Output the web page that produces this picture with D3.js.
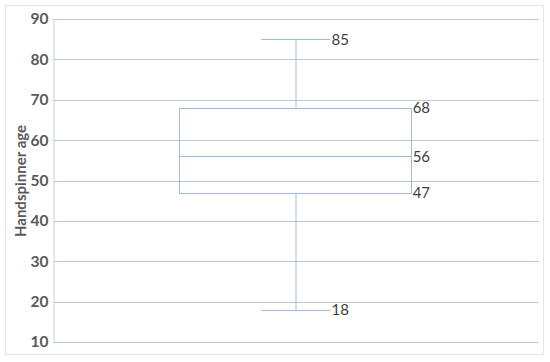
<!DOCTYPE html>
<html>
<head>
<meta charset="utf-8">
<script src="https://cdn.jsdelivr.net/npm/d3@7"></script>
<style>
  body { margin: 0; background: #fff; }
  svg { display: block; }
</style>
</head>
<body>
<svg width="550" height="362"></svg>
<script>
// box plot summary for handspinner age
var whiskerLow = 18;
var quartile1 = 47;
var median = 56;
var quartile3 = 68;
var whiskerHigh = 85;
var yTicks = [10, 20, 30, 40, 50, 60, 70, 80, 90];
var labelValues = [whiskerHigh, quartile3, median, quartile1, whiskerLow];

var svg = d3.select('svg');
var plotLeft = 53, plotRight = 539, plotTop = 19, plotBottom = 342;
var boxColor = '#9fbbdd';
var font = 'Lato, "Open Sans", sans-serif';

// outer chart border
svg.append('rect')
  .attr('x', 5.5).attr('y', 5.5)
  .attr('width', 538).attr('height', 349)
  .style('fill', 'none')
  .style('stroke', '#e3e3e3');

var y = d3.scaleLinear().domain([10, 90]).range([plotBottom, plotTop]);
var x = d3.scaleLinear().domain([0, 1]).range([plotLeft, plotRight]);

// gridlines
svg.append('g').selectAll('line')
  .data(yTicks)
  .enter().append('line')
  .attr('x1', plotLeft).attr('x2', plotRight)
  .attr('y1', function(d){ return Math.round(y(d)) + 0.5 })
  .attr('y2', function(d){ return Math.round(y(d)) + 0.5 })
  .style('stroke', '#b8c9de')
  .style('stroke-width', 1);

// axis with labels
var axis = d3.axisLeft(y).tickValues(yTicks).tickSize(0).tickPadding(5);
var g = svg.append('g')
  .attr('transform', 'translate(' + (plotLeft + 0.5) + ',0)')
  .call(axis);
g.select('.domain').style('stroke', '#d0d0d0');
g.selectAll('text')
  .style('font-family', font)
  .style('font-weight', 'bold')
  .style('font-size', '15.5px')
  .style('fill', '#595959');

svg.append('text')
  .attr('transform', 'translate(26,181) rotate(-90)')
  .attr('text-anchor', 'middle')
  .style('font-family', font)
  .style('font-weight', 'bold')
  .style('font-size', '15px')
  .style('fill', '#595959')
  .text('Handspinner age');

// box plot
var cx = x(0.5);
var boxL = x(0.26), boxR = x(0.738);
var capL = x(0.428), capR = x(0.571);
var px = function(v){ return Math.round(y(v)) + 0.5 };
var bp = svg.append('g')
  .style('stroke', boxColor)
  .style('stroke-width', 1)
  .style('fill', 'none');

bp.append('line').attr('x1', cx).attr('x2', cx).attr('y1', px(whiskerHigh)).attr('y2', px(quartile3));
bp.append('line').attr('x1', cx).attr('x2', cx).attr('y1', px(quartile1)).attr('y2', px(whiskerLow));
bp.append('line').attr('x1', capL).attr('x2', capR).attr('y1', px(whiskerHigh)).attr('y2', px(whiskerHigh));
bp.append('line').attr('x1', capL).attr('x2', capR).attr('y1', px(whiskerLow)).attr('y2', px(whiskerLow));
bp.append('rect')
  .attr('x', Math.round(boxL) + 0.5).attr('y', px(quartile3))
  .attr('width', Math.round(boxR - boxL))
  .attr('height', px(quartile1) - px(quartile3));
bp.append('line').attr('x1', boxL).attr('x2', boxR).attr('y1', px(median)).attr('y2', px(median));

// data labels
svg.append('g').selectAll('text')
  .data(labelValues)
  .enter().append('text')
  .attr('x', function(d){ return (d === whiskerHigh || d === whiskerLow) ? capR + 1 : boxR + 1 })
  .attr('y', function(d){ return y(d) })
  .attr('dy', '0.36em')
  .style('font-family', font)
  .style('font-size', '15px')
  .style('fill', '#404040')
  .text(function(d){ return d });
</script>
</body>
</html>
